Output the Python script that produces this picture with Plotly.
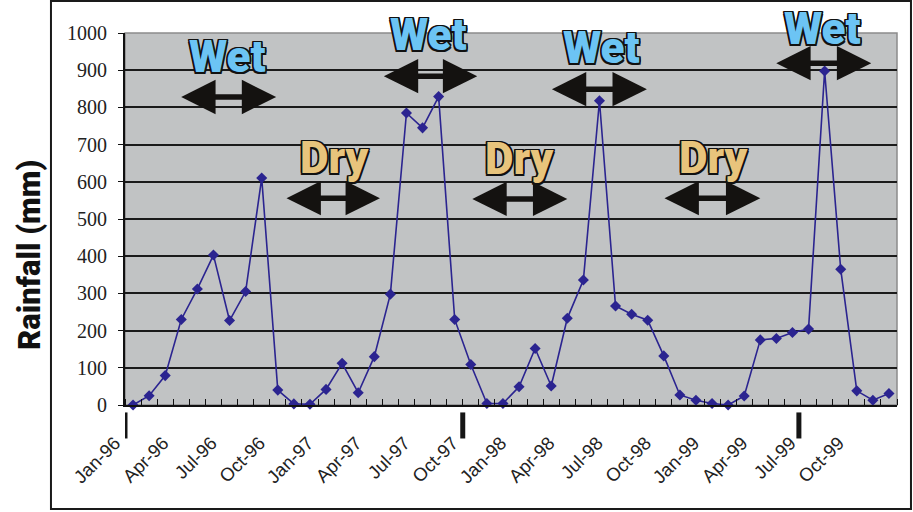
import plotly.graph_objects as go

# Monthly rainfall, Jan-96 .. Dec-99
months = [f"{m}-{y}" for y in ["96", "97", "98", "99"]
          for m in ["Jan", "Feb", "Mar", "Apr", "May", "Jun",
                    "Jul", "Aug", "Sep", "Oct", "Nov", "Dec"]]
rain_1996 = [0, 25, 79, 230, 312, 403, 227, 305, 610, 40, 3, 2]
rain_1997 = [42, 112, 33, 130, 298, 785, 745, 829, 230, 109, 4, 4]
rain_1998 = [49, 152, 51, 233, 336, 818, 266, 244, 228, 132, 27, 13]
rain_1999 = [4, 0, 24, 175, 179, 195, 204, 898, 365, 38, 13, 31]
rainfall = rain_1996 + rain_1997 + rain_1998 + rain_1999

x_idx = list(range(len(months)))
label_idx = x_idx[::3]
label_txt = months[::3]

Y_MAX = 1000

# Season bands: (label, text x, text y, arrow start x, arrow end x, arrow y)
seasons = [
    ("Wet", 5.85, 935, 2.9, 8.9, 828),
    ("Dry", 12.5, 664, 9.45, 15.35, 556),
    ("Wet", 18.4, 995, 15.5, 21.4, 884),
    ("Dry", 24.05, 661, 21.0, 27.0, 554),
    ("Wet", 29.1, 960, 25.95, 31.95, 849),
    ("Dry", 36.1, 664, 32.95, 39.0, 556),
    ("Wet", 42.85, 1012, 39.9, 45.9, 919),
]
season_fill = {"Wet": "#6CC4F4", "Dry": "#E8C47C"}

# Cycle marks below the axis (category boundaries)
cycle_marks = [-0.5, 20.5, 41.4]

LINE = "#2B2490"
HEAVY = "Roboto, Lato, sans-serif"
outline = ", ".join(f"{dx}px {dy}px 0 #111" for dx, dy in
                    [(-1.5, -1.5), (1.5, -1.5), (-1.5, 1.5), (1.5, 1.5),
                     (0, 1.5), (0, -1.5), (1.5, 0), (-1.5, 0)])

fig = go.Figure()
fig.add_trace(go.Scatter(
    x=x_idx, y=rainfall, mode="lines+markers",
    line=dict(color=LINE, width=1.6),
    marker=dict(symbol="diamond", size=8.5, color=LINE),
    cliponaxis=False, hoverinfo="skip", showlegend=False,
))

annotations = []
for name, tx, ty, a0, a1, ay in seasons:
    annotations.append(dict(
        x=tx, y=ty / Y_MAX, xref="x", yref="paper", text=name, showarrow=False,
        xanchor="center", yanchor="middle",
        font=dict(family=HEAVY, size=44, weight=900,
                  color=season_fill[name], shadow=outline),
    ))
    annotations.append(dict(
        x=a1, y=ay, ax=a0, ay=ay, xref="x", yref="y", axref="x", ayref="y",
        text="", showarrow=True, arrowside="end+start", arrowhead=2,
        startarrowhead=2, arrowsize=1.25, startarrowsize=1.25,
        arrowwidth=5.5, arrowcolor="#141210",
    ))

annotations.append(dict(
    x=-0.1244, y=0.403, xref="paper", yref="paper", text="Rainfall (mm)",
    textangle=-90, showarrow=False, xanchor="center", yanchor="middle",
    font=dict(family=HEAVY, size=31, weight=900, color="#111"),
))

shapes = [
    # outer chart frame
    dict(type="rect", xref="paper", yref="paper", x0=-0.0959, x1=1.0181,
         y0=-0.2796, y1=1.086, line=dict(color="#1a1a1a", width=2)),
    # plot area border
    dict(type="rect", xref="paper", yref="paper", x0=0, x1=1, y0=0, y1=1,
         line=dict(color="#8c8c8c", width=1.5), layer="below"),
]
for m in cycle_marks:
    shapes.append(dict(type="line", xref="x", yref="paper", x0=m, x1=m,
                       y0=-0.02, y1=-0.09, line=dict(color="#151515", width=5)))

fig.update_layout(
    width=913, height=512,
    margin=dict(l=125, r=16, t=33, b=107),
    paper_bgcolor="white", plot_bgcolor="#C1C3C4",
    xaxis=dict(
        range=[-0.5, 47.5], tickvals=label_idx, ticktext=label_txt,
        tickangle=-45, ticks="", showgrid=False, zeroline=False,
        showline=True, linecolor="#111", linewidth=2,
        tickfont=dict(family="Liberation Sans, Arial", size=18.5, color="#222"),
        minor=dict(tick0=-0.5, dtick=1, ticks="inside", ticklen=6,
                   tickcolor="#111", tickwidth=1.2, showgrid=False),
        ticklabelstandoff=18, ticklabelshift=-18,
    ),
    yaxis=dict(
        range=[0, Y_MAX], dtick=100, showgrid=True, gridcolor="#1a1a1a",
        gridwidth=1.5, zeroline=False, showline=True, linecolor="#111",
        linewidth=2, ticks="outside", ticklen=5, tickcolor="#111",
        tickfont=dict(family="Liberation Serif, Times New Roman", size=20, color="#222"),
        ticklabelstandoff=7,
    ),
    annotations=annotations, shapes=shapes,
)

fig.write_html("out.html")
